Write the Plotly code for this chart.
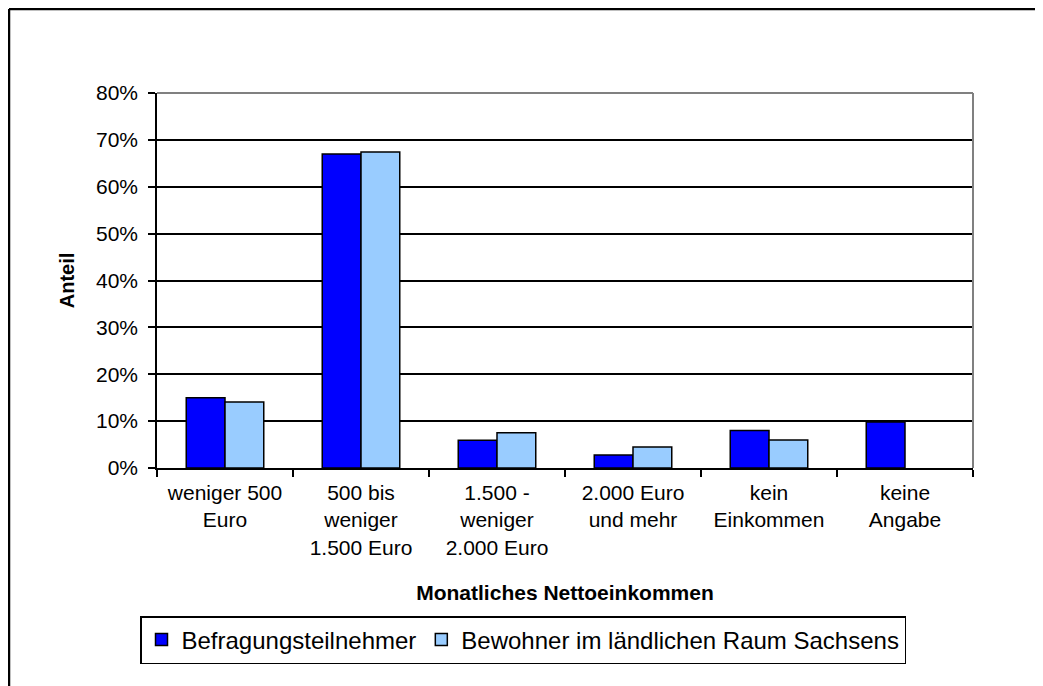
import plotly.graph_objects as go

categories = [
    "weniger 500<br>Euro",
    "500 bis<br>weniger<br>1.500 Euro",
    "1.500 -<br>weniger<br>2.000 Euro",
    "2.000 Euro<br>und mehr",
    "kein<br>Einkommen",
    "keine<br>Angabe",
]
befragte = [0.15, 0.67, 0.059, 0.028, 0.08, 0.098]
bewohner = [0.141, 0.674, 0.075, 0.045, 0.06, None]
y_ticks = [0, 0.1, 0.2, 0.3, 0.4, 0.5, 0.6, 0.7, 0.8]

# page has an 8px body margin, so the figure is a bit smaller than the window
W, H = 1035, 678
L, R, T, B = 149, 70, 85, 218
pw, ph = W - L - R, H - T - B


def px(x):
    # page pixel -> paper x
    return (x - 8 - L) / pw


def py(y):
    # page pixel -> paper y
    return (H - B - (y - 8)) / ph


font = "Arial, Liberation Sans, sans-serif"

fig = go.Figure()
fig.add_trace(go.Bar(
    x=categories, y=befragte, name="Befragungsteilnehmer",
    marker=dict(color="#0000FF", line=dict(color="black", width=1.5)),
))
fig.add_trace(go.Bar(
    x=categories, y=bewohner, name="Bewohner im ländlichen Raum Sachsens",
    marker=dict(color="#99CCFF", line=dict(color="black", width=1.5)),
))

fig.update_layout(
    width=W, height=H,
    margin=dict(l=L, r=R, t=T, b=B),
    paper_bgcolor="white", plot_bgcolor="white",
    font=dict(family=font, size=21, color="black"),
    barmode="group", bargap=0.43, bargroupgap=0,
    showlegend=True,
    legend=dict(
        orientation="h", x=px(140), y=py(616), xanchor="left", yanchor="top",
        bordercolor="black", borderwidth=1.5, font=dict(size=24),
        itemwidth=30, tracegroupgap=0,
    ),
    xaxis=dict(
        showline=True, linecolor="black", linewidth=1.5,
        ticks="outside", ticklen=7, tickcolor="black", tickwidth=1.5,
        tickson="boundaries", showgrid=False, tickfont=dict(size=21),
        ticklabelstandoff=5,
        title=dict(text="<b>Monatliches Nettoeinkommen</b>", font=dict(size=21), standoff=28),
    ),
    yaxis=dict(
        range=[0, 0.8], tickvals=y_ticks, tickformat=".0%",
        showline=True, linecolor="black", linewidth=1.5,
        ticks="outside", ticklen=7, tickcolor="black", tickwidth=1.5,
        ticklabelstandoff=6, tickfont=dict(size=21),
        showgrid=True, gridcolor="black", gridwidth=1.5, zeroline=False,
        title=dict(text="<b>Anteil</b>", font=dict(size=20), standoff=16),
    ),
    shapes=[
        dict(type="line", xref="paper", yref="paper", x0=0, x1=1, y0=1, y1=1,
             line=dict(color="#808080", width=2), layer="above"),
        dict(type="line", xref="paper", yref="paper", x0=1, x1=1, y0=0, y1=1,
             line=dict(color="#808080", width=2), layer="above"),
        dict(type="line", xref="paper", yref="paper", x0=px(9), x1=px(1050),
             y0=py(9), y1=py(9), line=dict(color="black", width=2.5)),
        dict(type="line", xref="paper", yref="paper", x0=px(9), x1=px(9),
             y0=py(9), y1=py(700), line=dict(color="black", width=2.5)),
    ],
)

fig.write_html("out.html")
